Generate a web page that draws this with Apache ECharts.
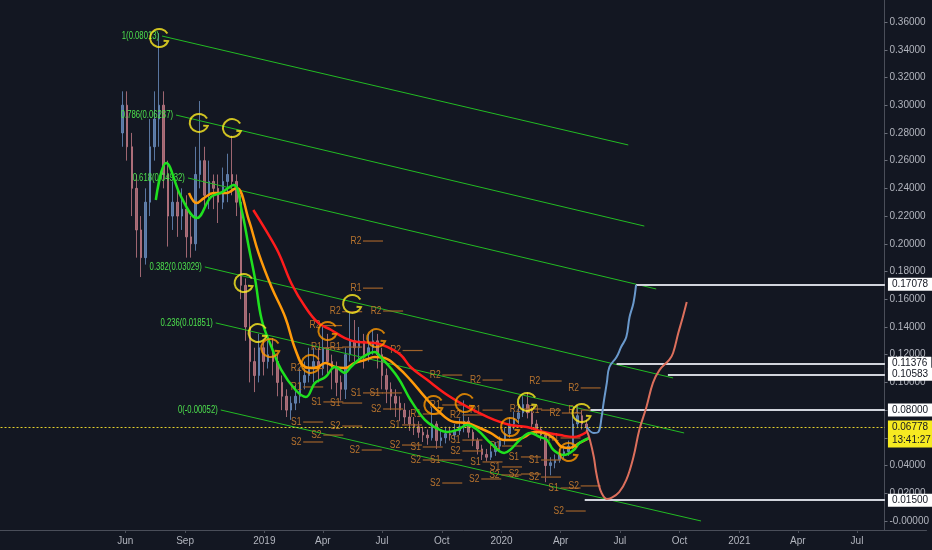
<!DOCTYPE html>
<html><head><meta charset="utf-8">
<script src="https://cdn.jsdelivr.net/npm/echarts@6/dist/echarts.min.js"></script>
<style>html,body{margin:0;padding:0;background:#131722}#c{width:932px;height:550px}</style>
</head><body><div id="c"></div>
<script>
// ---- x values below are day offsets from 2018-06-01 ----
const ts = d => d;

// x-axis tick dates (day offsets from 2018-06-01) and their labels
const xTickDays = [0, 92, 214, 304, 395, 487, 579, 670, 761, 853, 945, 1035, 1126];
const xTickLabels = ['Jun', 'Sep', '2019', 'Apr', 'Jul', 'Oct', '2020', 'Apr', 'Jul', 'Oct', '2021', 'Apr', 'Jul'];
// y-axis tick values
const yTicks = [0, 0.02, 0.04, 0.06, 0.08, 0.10, 0.12, 0.14, 0.16, 0.18, 0.20, 0.22, 0.24, 0.26, 0.28, 0.30, 0.32, 0.34, 0.36];

// weekly candles [open, close, low, high], first candle at day -4, one per week
const candleStartDay = -4, candleStepDays = 7;
const candles = [
[0.28,0.30,0.27,0.31],[0.30,0.27,0.26,0.31],[0.27,0.24,0.22,0.28],[0.24,0.21,0.19,0.25],[0.21,0.19,0.176,0.22],
[0.19,0.23,0.185,0.24],[0.23,0.27,0.22,0.29],[0.27,0.29,0.26,0.31],[0.29,0.30,0.27,0.352],[0.30,0.25,0.24,0.31],
[0.25,0.22,0.198,0.26],[0.22,0.23,0.21,0.245],[0.23,0.22,0.205,0.24],[0.22,0.225,0.21,0.24],[0.225,0.205,0.19,0.235],
[0.205,0.20,0.19,0.22],[0.20,0.25,0.195,0.27],[0.25,0.26,0.24,0.303],[0.26,0.235,0.225,0.27],[0.235,0.245,0.225,0.26],
[0.245,0.24,0.225,0.25],[0.24,0.23,0.215,0.25],[0.23,0.245,0.225,0.255],[0.245,0.25,0.23,0.265],[0.25,0.245,0.235,0.278],
[0.245,0.23,0.22,0.25],[0.23,0.17,0.16,0.235],[0.17,0.14,0.13,0.175],[0.14,0.115,0.10,0.15],[0.115,0.105,0.093,0.125],
[0.105,0.125,0.10,0.135],[0.125,0.115,0.105,0.13],[0.115,0.12,0.11,0.13],[0.12,0.115,0.105,0.132],[0.115,0.10,0.09,0.12],
[0.10,0.09,0.08,0.105],[0.09,0.08,0.075,0.095],[0.08,0.085,0.073,0.09],[0.085,0.09,0.08,0.098],[0.09,0.10,0.085,0.11],
[0.10,0.105,0.095,0.115],[0.105,0.11,0.10,0.125],[0.11,0.115,0.10,0.125],[0.115,0.11,0.10,0.125],[0.11,0.125,0.105,0.14],
[0.125,0.115,0.105,0.135],[0.115,0.11,0.095,0.12],[0.11,0.10,0.09,0.115],[0.10,0.095,0.087,0.105],[0.095,0.12,0.088,0.125],
[0.12,0.13,0.115,0.15],[0.13,0.125,0.115,0.145],[0.125,0.13,0.115,0.14],[0.13,0.12,0.11,0.135],[0.12,0.125,0.115,0.135],
[0.125,0.13,0.12,0.138],[0.13,0.12,0.11,0.135],[0.12,0.105,0.095,0.125],[0.105,0.095,0.085,0.11],[0.095,0.09,0.08,0.10],
[0.09,0.085,0.075,0.095],[0.085,0.08,0.072,0.09],[0.08,0.075,0.07,0.085],[0.075,0.07,0.065,0.08],[0.07,0.068,0.062,0.075],
[0.068,0.064,0.06,0.072],[0.064,0.062,0.057,0.068],[0.062,0.06,0.055,0.066],[0.06,0.07,0.058,0.082],[0.07,0.058,0.052,0.072],
[0.058,0.06,0.054,0.065],[0.06,0.063,0.056,0.068],[0.063,0.062,0.058,0.068],[0.062,0.065,0.059,0.07],[0.065,0.068,0.062,0.074],
[0.068,0.072,0.064,0.087],[0.072,0.064,0.06,0.075],[0.064,0.058,0.054,0.066],[0.058,0.052,0.048,0.06],[0.052,0.048,0.044,0.055],
[0.048,0.046,0.043,0.052],[0.046,0.05,0.044,0.053],[0.05,0.054,0.047,0.057],[0.054,0.058,0.051,0.061],[0.058,0.063,0.055,0.067],
[0.063,0.07,0.06,0.075],[0.07,0.074,0.066,0.079],[0.074,0.078,0.07,0.083],[0.078,0.084,0.075,0.09],[0.084,0.078,0.074,0.093],
[0.078,0.07,0.066,0.082],[0.07,0.066,0.062,0.073],[0.066,0.062,0.058,0.068],[0.062,0.04,0.028,0.064],[0.04,0.042,0.033,0.046],
[0.042,0.044,0.038,0.048],[0.044,0.048,0.042,0.052],[0.048,0.05,0.045,0.054],[0.05,0.054,0.047,0.058],[0.054,0.07,0.052,0.076],
[0.07,0.076,0.067,0.083],[0.076,0.07,0.066,0.08],[0.07,0.0678,0.064,0.073]
];

// moving averages [day, value]
const maFast = [[47,0.2316],[63,0.2583],[86,0.2338],[110,0.2186],[132,0.2338],[147,0.2367],[167,0.2424],[179,0.2244],[190,0.1977],[200,0.1739],[210,0.145],[225,0.1255],[240,0.109],[262,0.0945],[278,0.0895],[292,0.0996],[308,0.1039],[323,0.1111],[338,0.1068],[347,0.1111],[363,0.1176],[384,0.1219],[393,0.1183],[419,0.1039],[439,0.0873],[461,0.0729],[476,0.0678],[496,0.0642],[511,0.0657],[526,0.0693],[542,0.0657],[562,0.0563],[583,0.0491],[592,0.0512],[607,0.0584],[623,0.0635],[638,0.0606],[649,0.0584],[659,0.0512],[675,0.0476],[690,0.0512],[699,0.0563],[714,0.0599]];
const maMid = [[98,0.2367],[110,0.2294],[121,0.233],[136,0.2367],[156,0.2367],[171,0.2403],[190,0.2172],[205,0.1934],[225,0.1688],[246,0.1472],[262,0.1234],[277,0.1111],[292,0.1104],[308,0.114],[323,0.1111],[338,0.1104],[353,0.114],[369,0.1162],[384,0.1183],[399,0.1176],[419,0.1111],[439,0.1017],[461,0.0895],[480,0.0801],[506,0.0714],[526,0.0707],[542,0.0678],[562,0.0635],[583,0.0584],[598,0.0584],[614,0.0606],[629,0.0642],[644,0.0635],[659,0.0599],[672,0.0534],[684,0.0527],[699,0.0563],[714,0.0599]];
const maSlow = [[197,0.2244],[216,0.21],[236,0.1934],[256,0.171],[277,0.1544],[297,0.1429],[317,0.1378],[338,0.132],[358,0.1291],[384,0.1284],[404,0.1255],[424,0.1198],[439,0.1111],[465,0.1017],[491,0.0924],[516,0.0851],[542,0.0786],[568,0.0729],[592,0.0693],[618,0.0678],[644,0.0642],[669,0.062],[690,0.0606],[710,0.0642]];
// projection paths
const projUp = [[710,0.0678],[721,0.0635],[728,0.0642],[733,0.075],[736,0.0851],[741,0.0996],[745,0.1111],[756,0.1183],[763,0.1255],[771,0.1328],[776,0.1472],[782,0.1573],[786,0.1703]];
const projDown = [[710,0.0657],[715,0.0584],[721,0.0462],[724,0.0368],[728,0.0274],[733,0.0202],[741,0.0159],[748,0.0166],[760,0.0209],[771,0.0296],[782,0.0462],[791,0.0657],[802,0.0823],[812,0.0996],[822,0.1089],[837,0.1162],[843,0.1212],[851,0.1356],[858,0.1472],[864,0.158]];

// fib channel lines
const fibNames = ['1(0.08013)', '0.786(0.06287)', '0.618(0.04932)', '0.382(0.03029)', '0.236(0.01851)', '0(-0.00052)'];
const fibStart = [[56.6,0.3499],[78,0.2929],[96.4,0.2475],[122.4,0.1833],[139.2,0.1429],[146.9,0.0801]];
const fibEnd = [[774,0.2713],[798.7,0.2128],[817,0.1674],[843,0.1032],[860,0.0635],[886,0.0]];

// horizontal target levels
const levels = [0.17078, 0.11376, 0.10583, 0.08000, 0.01500];
const levelStartDays = [786, 756, 835, 716, 707];
const levelEndDay = 1169;
const lastPrice = 0.06778;
const lastTime = '13:41:27';
const lastLineStartDay = -192;

// hand drawn circles
const yellowMarks = [[52,0.3485],[113,0.2872],[164,0.2835],[182,0.1717],[203.5,0.1356],[349,0.1566],[618,0.0859],[702,0.0779]];
const orangeMarks = [[223,0.1248],[285,0.1133],[311,0.1371],[386,0.132],[474,0.0837],[522,0.0851],[592,0.0678],[682,0.0498]];

// pivot labels [name, day, value]
const pivots = [
['R2',355,0.202],['R1',355,0.168],['R2',323,0.151],['R2',386,0.1515],['R2',292,0.141],['R1',294,0.125],['R1',323,0.1255],['R2',416,0.123],['R2',263,0.110],['R1',263,0.0967],
['S1',294,0.0859],['S1',323,0.0851],['S1',355,0.0924],['S1',384,0.0924],['S2',386,0.0808],['S1',263,0.0714],['S2',323,0.0685],['S2',294,0.062],['S2',263,0.057],['S2',353,0.0512],
['S1',415,0.0693],['S2',415,0.0548],['R2',477,0.1053],['R2',539,0.1017],['R2',630,0.101],['R2',690,0.096],['R1',477,0.0837],['R1',447,0.0772],['R2',508,0.0765],['R1',539,0.080],
['R2',600,0.0808],['R1',629,0.080],['R2',661,0.0779],['R1',659,0.0599],['S1',447,0.0534],['S1',477,0.044],['S1',508,0.0584],['S2',447,0.044],['S2',508,0.0505],['S1',539,0.0426],
['S1',569,0.039],['S1',598,0.0462],['S1',629,0.044],['S2',477,0.0274],['S2',537,0.0303],['S2',568,0.0332],['S2',598,0.0339],['S2',629,0.0317],['S1',659,0.0238],['S2',690,0.0253],
['S2',667,0.0072],['R1',569,0.0541],['R1',690,0.080]
];

const FONT = 'Liberation Sans';
const toXY = arr => arr.map(p => [ts(p[0]), p[1]]);
const chart = echarts.init(document.getElementById('c'), null, {renderer: 'canvas'});
const xLabelMap = {};
xTickDays.forEach((t, i) => xLabelMap[t] = xTickLabels[i]);

const gShape = 'path://M84.6,30 A40,40 0 1 0 87.6,63.7 L68,62';

const series = [];
// fib lines
fibStart.forEach((s, i) => {
  series.push({type: 'line', silent: true, showSymbol: false, z: 3,
    data: toXY([s, fibEnd[i]]), lineStyle: {color: '#22bb22', width: 1}});
});
// fib labels (condensed text, right aligned before the line start)
series.push({type: 'custom', z: 4, data: toXY(fibStart),
  renderItem: (params, api) => {
    const pt = api.coord([api.value(0), api.value(1)]);
    return {type: 'text', x: pt[0] - 3, y: pt[1], scaleX: 0.7,
      style: {text: fibNames[params.dataIndex], x: 0, y: 0, align: 'right', verticalAlign: 'middle',
        fill: '#4de04d', font: '11px ' + FONT}};
  }});
// candles
series.push({type: 'candlestick', z: 2, barWidth: 2, encode: {x: 0, y: [1, 2, 3, 4]},
  data: candles.map((c, i) => [ts(candleStartDay + candleStepDays * i), c[0], c[1], c[2], c[3]]),
  itemStyle: {color: '#6b8fc0', color0: '#c27a86', borderColor: '#6b8fc0', borderColor0: '#c27a86', borderWidth: 1, opacity: 0.8}});
// pivot labels
series.push({type: 'custom', z: 4, data: pivots.map(p => [ts(p[1]), p[2]]),
  renderItem: (params, api) => {
    const pt = api.coord([api.value(0), api.value(1)]);
    return {type: 'group', children: [
      {type: 'text', x: pt[0], y: pt[1], scaleX: 0.85,
        style: {text: pivots[params.dataIndex][0], x: 0, y: 0, align: 'center', verticalAlign: 'middle',
        fill: '#b8742e', font: '10px ' + FONT}},
      {type: 'line', shape: {x1: pt[0] + 7, y1: pt[1], x2: pt[0] + 27, y2: pt[1]}, style: {stroke: '#a0622a', lineWidth: 1.2}}
    ]};
  }});
// MAs
[[maSlow, '#ff1c1c'], [maMid, '#ff9a0a'], [maFast, '#1fe01f']].forEach(([d, col]) => {
  series.push({type: 'line', smooth: 0.4, showSymbol: false, z: 5, data: toXY(d), lineStyle: {color: col, width: 2.5}});
});
// projections
series.push({type: 'line', smooth: 0.4, showSymbol: false, z: 5, data: toXY(projUp), lineStyle: {color: '#6a99cc', width: 2}});
series.push({type: 'line', smooth: 0.4, showSymbol: false, z: 5, data: toXY(projDown), lineStyle: {color: '#dc6f5c', width: 2}});
// circles
series.push({type: 'scatter', z: 6, symbol: gShape, symbolSize: 18, data: toXY(yellowMarks),
  itemStyle: {color: 'rgba(0,0,0,0)', borderColor: '#ffee22', borderWidth: 2}});
series.push({type: 'scatter', z: 6, symbol: gShape, symbolSize: 18, data: toXY(orangeMarks),
  itemStyle: {color: 'rgba(0,0,0,0)', borderColor: '#ff9800', borderWidth: 2}});
// levels & last price
series.push({type: 'line', data: [], z: 7,
  markLine: {symbol: 'none', silent: true, animation: false,
    data: levels.map((v, i) => [
      {coord: [ts(levelStartDays[i]), v], lineStyle: {color: '#d1d4dc', width: 2, type: 'solid'},
       label: {show: true, position: 'end', distance: 3, formatter: v.toFixed(5), backgroundColor: '#ffffff',
         color: '#131722', fontSize: 10, fontFamily: FONT, padding: [2, 4, 1, 4]}},
      {coord: [ts(levelEndDay), v]}
    ]).concat([[
      {coord: [ts(lastLineStartDay), lastPrice], lineStyle: {color: '#e3cf2c', width: 1, type: [2, 2], opacity: 1},
       label: {show: true, position: 'end', distance: 3, offset: [0, 7], formatter: lastPrice.toFixed(5) + '\n' + lastTime,
         backgroundColor: '#f6ea21', color: '#131722', fontSize: 10, fontFamily: FONT, lineHeight: 13,
         padding: [0, 4, 1, 4]}},
      {coord: [ts(levelEndDay), lastPrice]}
    ]])
  }});

chart.setOption({
  animation: false,
  backgroundColor: '#131722',
  grid: {left: 0, right: 0, top: 0, bottom: 20},
  xAxis: {type: 'value', min: -192.8, max: 1233,
    axisLine: {show: true, onZero: false, lineStyle: {color: '#4a4e59'}},
    axisTick: {show: true, customValues: xTickDays, length: 3, lineStyle: {color: '#4a4e59'}},
    axisLabel: {customValues: xTickDays, formatter: v => xLabelMap[v] || '', color: '#b2b5be', fontSize: 10, fontFamily: FONT, margin: 6},
    splitLine: {show: false}},
  yAxis: {type: 'value', position: 'right', offset: -42, min: -0.0065, max: 0.3759,
    axisLine: {show: true, onZero: false, lineStyle: {color: '#4a4e59'}},
    axisTick: {show: true, customValues: yTicks, length: 3, inside: false, lineStyle: {color: '#6a6e79'}},
    axisLabel: {customValues: yTicks, formatter: v => Math.abs(v) < 1e-9 ? '-0.00000' : v.toFixed(5),
      color: '#b2b5be', fontSize: 10, fontFamily: FONT, margin: 5},
    splitLine: {show: false}},
  series: series
});
</script></body></html>
